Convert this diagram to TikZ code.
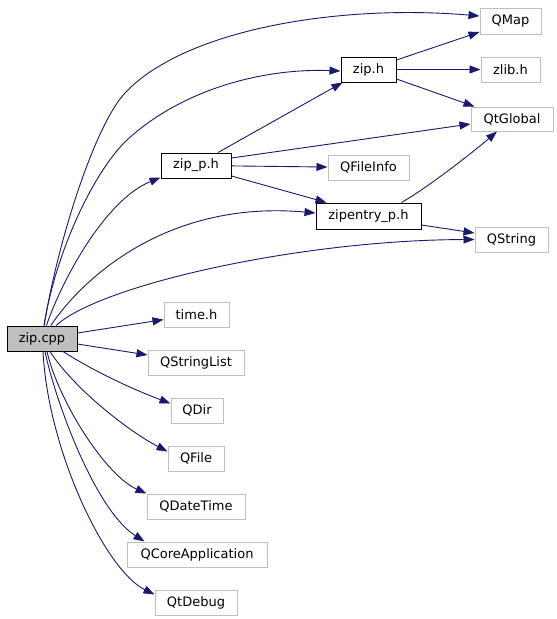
\documentclass[tikz,border=0pt]{standalone}
\usepackage{fontspec}
\setmainfont{DejaVu Sans}
\usetikzlibrary{arrows.meta}
\definecolor{edgecol}{HTML}{191970}
\definecolor{grey75}{HTML}{BFBFBF}
\begin{document}
\begin{tikzpicture}[x=1pt,y=-1pt,
  box/.style={draw=black,line width=1pt,inner sep=0pt,minimum height=25pt,font=\fontsize{13}{15}\selectfont},
  ext/.style={box,draw=grey75},
  cur/.style={box,fill=grey75},
  dep/.style={draw=edgecol,line width=0.9pt,-{Triangle[length=11pt,width=8pt]},shorten >=0pt}]
\useasboundingbox (0,0) rectangle (557,619);
% nodes
\node[cur,minimum width=70pt] (cpp) at (42,338.5) {zip.cpp};
\node[box,minimum width=70pt] (zipp) at (196,165.5) {zip\_p.h};
\node[box,minimum width=55pt] (ziph) at (368.5,69.5) {zip.h};
\node[box,minimum width=105pt,minimum height=26pt] (zipentry) at (368.5,216) {zipentry\_p.h};
\node[ext,minimum width=61pt,minimum height=26pt] (qmap) at (510.5,21) {QMap};
\node[ext,minimum width=59pt] (zlib) at (510.5,69.5) {zlib.h};
\node[ext,minimum width=82pt,minimum height=24pt] (qtglobal) at (512,119) {QtGlobal};
\node[ext,minimum width=81pt] (qfileinfo) at (368.5,167.5) {QFileInfo};
\node[ext,minimum width=73pt] (qstring) at (511.5,239.5) {QString};
\node[ext,minimum width=65pt] (timeh) at (196.5,314.5) {time.h};
\node[ext,minimum width=96pt] (qstringlist) at (196,362.5) {QStringList};
\node[ext,minimum width=52pt] (qdir) at (197,410.5) {QDir};
\node[ext,minimum width=56pt] (qfile) at (196,458.5) {QFile};
\node[ext,minimum width=98pt] (qdatetime) at (196,506.5) {QDateTime};
\node[ext,minimum width=140pt] (qcore) at (197,554.5) {QCoreApplication};
\node[ext,minimum width=82pt] (qtdebug) at (196,602.5) {QtDebug};
% edges from zip.cpp (upper)
\draw[dep] (cpp) .. controls (58,240) and (95,125) .. (125,93) .. controls (185,29) and (340,4) .. ([yshift=5pt]qmap.west);
\draw[dep] (cpp) .. controls (56,250) and (95,170) .. (127,140) .. controls (180,91) and (260,68) .. ([yshift=-1.5pt]ziph.west);
\draw[dep] (cpp) .. controls (62,280) and (105,200) .. ([yshift=1pt]zipp.south west);
\draw[dep] (cpp) .. controls (85,275) and (170,200) .. ([yshift=3pt]zipentry.west);
\draw[dep] (cpp) .. controls (100,285) and (300,240) .. (qstring.west);
% edges from zip.cpp (lower)
\draw[dep] (cpp) -- (timeh);
\draw[dep] (cpp) -- (qstringlist);
\draw[dep] ([xshift=21pt]cpp.south) .. controls (100,375) and (140,392) .. ([yshift=-6pt]qdir.north west);
\draw[dep] ([xshift=8pt]cpp.south) .. controls (75,390) and (130,432) .. ([yshift=-6pt]qfile.north west);
\draw[dep] ([xshift=5pt]cpp.south) .. controls (58,400) and (105,475) .. (qdatetime.north west);
\draw[dep] ([xshift=3pt]cpp.south) .. controls (55,400) and (95,510) .. ([xshift=18pt]qcore.north west);
\draw[dep] ([xshift=1pt]cpp.south) .. controls (48,450) and (105,570) .. ([yshift=-5pt]qtdebug.north west);
% edges from zip_p.h
\draw[dep] ([xshift=22pt]zipp.north) -- ([xshift=2pt]ziph.south west);
\draw[dep] ([yshift=7.5pt]zipp.east) -- ([yshift=-5pt]qtglobal.west);
\draw[dep] (zipp) -- (qfileinfo);
\draw[dep] ([yshift=-10.5pt]zipp.east) -- ([xshift=11pt]zipentry.north west);
% edges from zip.h
\draw[dep] ([yshift=9.5pt]ziph.east) -- ([yshift=-11pt]qmap.west);
\draw[dep] (ziph) -- (zlib);
\draw[dep] ([yshift=-9.5pt]ziph.east) -- ([xshift=4pt]qtglobal.north west);
% edges from zipentry_p.h
\draw[dep] ([xshift=33pt]zipentry.north) .. controls (427,188) and (472,153) .. ([xshift=-15pt]qtglobal.south);
\draw[dep] ([yshift=-9pt]zipentry.east) -- ([yshift=6.5pt]qstring.west);
\end{tikzpicture}
\end{document}
